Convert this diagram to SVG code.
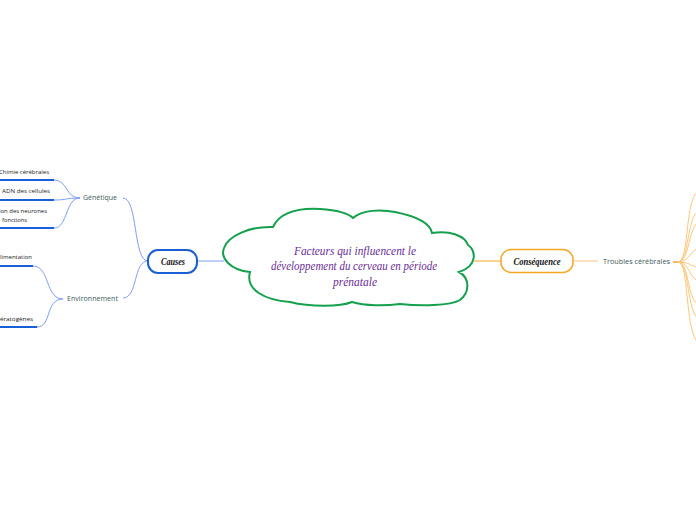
<svg xmlns="http://www.w3.org/2000/svg" width="696" height="520" viewBox="0 0 696 520">
<style>
.bl{fill:none;stroke:#7c9ef2;stroke-width:1}
.or{fill:none;stroke:#fcc77c;stroke-width:1}
.ul{stroke:#1b5fd6;stroke-width:2}
.t1{font-family:"Open Sans","DejaVu Sans",sans-serif;font-size:8px;fill:#3d5c5c}
.t2{font-family:"Open Sans","DejaVu Sans",sans-serif;font-size:6px;fill:#222}
.sc{font-family:"Liberation Serif","DejaVu Serif",serif;font-style:italic;font-weight:bold}
.ct{font-family:"Liberation Serif","DejaVu Serif",serif;font-style:italic;font-weight:normal;font-size:12px;fill:#6a2c96}
</style>
<rect width="696" height="520" fill="#fff"/>
<g id="connectors">
<path class="bl" d="M224,261 H196"/>
<path class="bl" d="M148,261 C133,261 138,198 123,198"/>
<path class="bl" d="M148,261 C133,261 138,298 123,298"/>
<path class="bl" d="M80,198 C65,198 68,180 54,180"/>
<path class="bl" d="M80,198 C65,198 68,200 54,200"/>
<path class="bl" d="M80,198 C65,198 68,228 54,228"/>
<path class="bl" d="M63,299 C45,299 50,266 33,266"/>
<path class="bl" d="M63,299 C45,299 52,327 37,327"/>
<path fill="none" stroke="#f5a623" stroke-width="1" d="M474,261 H501"/>
<path class="or" d="M573,261 H598"/>
<path fill="none" stroke="#f5a623" stroke-width="1.5" d="M673,262 H679"/>
<path class="or" d="M678,262 C690,262 684,195 700,190"/>
<path class="or" d="M678,262 C690,262 686,215 700,210"/>
<path class="or" d="M678,262 C690,262 688,225 700,221"/>
<path class="or" d="M678,262 C690,262 690,249 700,248"/>
<path class="or" d="M678,262 C690,262 690,266 700,268"/>
<path class="or" d="M678,262 C690,262 688,278 700,282"/>
<path class="or" d="M678,262 C690,262 686,300 700,306"/>
<path class="or" d="M678,262 C690,262 686,314 700,320"/>
<path class="or" d="M678,262 C690,262 684,336 700,344"/>
</g>
<g id="central">
<path fill="#fff" stroke="#14a04c" stroke-width="2" d="M273,227 C280,212 300,208 320,209 C335,210 348,213 353,218 C362,210 380,209 395,212 C415,216 430,222 432,233 C450,230 465,236 468,245 C476,250 478,266 459,272 C470,278 470,292 460,300 C450,306 420,306 400,304 C385,306 365,306 352,302 C340,307 310,307 290,302 C265,300 245,290 250,272 C230,270 220,258 224,248 C228,236 250,226 273,227 Z"/>
<text class="ct" x="355" y="255" text-anchor="middle" textLength="122" lengthAdjust="spacingAndGlyphs">Facteurs qui influencent le</text>
<text class="ct" x="354" y="270" text-anchor="middle" textLength="166" lengthAdjust="spacingAndGlyphs">développement du cerveau en période</text>
<text class="ct" x="355" y="286" text-anchor="middle" textLength="44" lengthAdjust="spacingAndGlyphs">prénatale</text>
</g>
<g id="causes">
<rect x="148" y="250" width="49" height="23" rx="10" fill="#fff" stroke="#1b5fd6" stroke-width="2"/>
<text class="sc" x="173" y="265" font-size="10" fill="#111" text-anchor="middle" textLength="24" lengthAdjust="spacingAndGlyphs">Causes</text>
</g>
<g id="consequence">
<rect x="501" y="249.5" width="72" height="23" rx="10" fill="#fff" stroke="#f5a623" stroke-width="1.5"/>
<text class="sc" x="537" y="265" font-size="10" fill="#111" text-anchor="middle" textLength="47" lengthAdjust="spacingAndGlyphs">Conséquence</text>
</g>
<g id="troubles">
<text class="t1" x="603" y="264" textLength="67" lengthAdjust="spacingAndGlyphs">Troubles cérébrales</text>
</g>
<g id="genetique">
<text class="t1" x="83" y="200" textLength="34" lengthAdjust="spacingAndGlyphs">Génétique</text>
</g>
<g id="environnement">
<text class="t1" x="67" y="301" textLength="51" lengthAdjust="spacingAndGlyphs">Environnement</text>
</g>
<g id="chimie">
<line class="ul" x1="0" y1="180" x2="54" y2="180"/>
<text class="t2" x="-1" y="174" textLength="50" lengthAdjust="spacingAndGlyphs">Chimie cérébrales</text>
</g>
<g id="adn">
<line class="ul" x1="0" y1="200" x2="54" y2="200"/>
<text class="t2" x="2" y="193" textLength="48" lengthAdjust="spacingAndGlyphs">ADN des cellules</text>
</g>
<g id="neurones">
<line class="ul" x1="0" y1="228" x2="54" y2="228"/>
<text class="t2" x="-1" y="213" textLength="48" lengthAdjust="spacingAndGlyphs">ion des neurones</text>
<text class="t2" x="2" y="222" textLength="25" lengthAdjust="spacingAndGlyphs">fonctions</text>
</g>
<g id="alimentation">
<line class="ul" x1="0" y1="266" x2="33" y2="266"/>
<text class="t2" x="0" y="259" textLength="32" lengthAdjust="spacingAndGlyphs">limentation</text>
</g>
<g id="teratogenes">
<line class="ul" x1="0" y1="327" x2="37" y2="327"/>
<text class="t2" x="0" y="321" textLength="33" lengthAdjust="spacingAndGlyphs">ératogènes</text>
</g>
</svg>
